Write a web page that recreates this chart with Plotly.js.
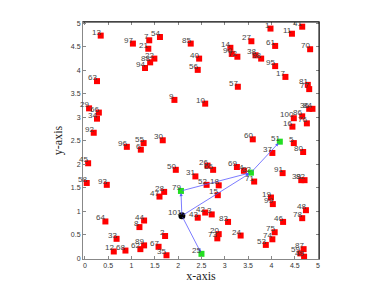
<!DOCTYPE html>
<html><head><meta charset="utf-8">
<script src="https://cdn.plot.ly/plotly-3.0.1.min.js"></script>
<style>html,body{margin:0;padding:0;background:#fff}#c{width:390px;height:293px}</style>
</head><body><div id="c"></div>
<script>
const redIds = [13,97,7,54,21,85,22,88,94,40,56,63,9,29,66,34,1,41,11,27,61,70,14,90,72,38,98,95,17,57,81,77,10,36,84,100,86,76,16,92,96,55,6,30,45,50,31,58,93,28,47,60,5,80,37,26,65,69,4,71,91,39,82,52,18,15,19,99,64,44,8,33,2,43,12,68,89,62,67,35,42,3,83,20,73,24,48,78,46,75,74,53,87,59,49];
const redX = [0.34,1.03,1.38,1.61,1.36,2.27,1.49,1.40,1.29,2.45,2.42,0.26,1.92,0.09,0.30,0.26,3.98,4.66,4.44,3.57,4.08,4.83,3.12,3.15,3.27,3.66,3.78,4.08,4.30,3.28,4.78,4.81,2.58,4.81,4.88,4.48,4.66,4.76,4.45,0.19,0.90,1.26,1.20,1.67,0.07,1.95,2.37,0.04,0.47,1.70,1.60,3.60,4.48,4.68,4.02,2.63,2.75,3.26,3.41,3.63,4.24,4.64,4.71,2.61,2.87,2.85,3.99,4.03,0.44,1.27,1.17,0.68,1.72,2.42,0.62,0.87,1.27,1.19,1.58,1.75,2.58,2.72,3.07,2.87,2.84,3.34,4.74,4.66,4.25,4.07,4.02,3.88,4.69,4.62,4.70];
const redY = [4.74,4.57,4.64,4.71,4.46,4.57,4.25,4.17,4.05,4.25,4.01,3.77,3.37,3.19,3.10,2.97,4.89,4.93,4.78,4.62,4.52,4.45,4.48,4.35,4.29,4.32,4.25,4.09,3.86,3.65,3.69,3.60,3.29,3.18,3.18,2.98,3.02,2.87,2.80,2.67,2.37,2.45,2.31,2.51,2.02,1.88,1.74,1.60,1.56,1.41,1.31,2.53,2.45,2.26,2.24,1.97,1.88,1.94,1.86,1.63,1.81,1.66,1.66,1.56,1.55,1.34,1.29,1.15,0.78,0.80,0.66,0.41,0.47,0.86,0.14,0.16,0.27,0.19,0.24,0.06,0.97,0.93,0.77,0.51,0.42,0.48,1.02,0.85,0.77,0.55,0.40,0.28,0.19,0.10,0.03];
const greenIds = [79,25,51,32];
const greenX = [2.06,2.50,4.18,3.56];
const greenY = [1.43,0.09,2.48,1.82];
const hubIds = [101];
const hubX = [2.08];
const hubY = [0.90];
const edgeFrom = [101,101,101,79,32];
const edgeTo = [79,25,32,32,51];
const xTicks = [0,0.5,1,1.5,2,2.5,3,3.5,4,4.5,5];
const yTicks = [0,0.5,1,1.5,2,2.5,3,3.5,4,4.5,5];

const pos = {};
greenIds.forEach((id,i)=>pos[id]=[greenX[i],greenY[i]]);
hubIds.forEach((id,i)=>pos[id]=[hubX[i],hubY[i]]);

const lblFont = {family:'Liberation Sans, Arial, sans-serif', size:8, color:'#444'};
const traces = [
  {type:'scatter', mode:'markers', x:redX, y:redY, marker:{symbol:'square', size:6, color:'#ff0000'}, hoverinfo:'none'},
  {type:'scatter', mode:'markers', x:greenX, y:greenY, marker:{symbol:'square', size:6, color:'#22dd22'}, hoverinfo:'none'},
  {type:'scatter', mode:'markers', x:hubX, y:hubY, marker:{symbol:'circle', size:7, color:'#000'}, hoverinfo:'none'}
];
const annotations = edgeFrom.map((f,i)=>{
  const a = pos[f], b = pos[edgeTo[i]];
  return {x:b[0], y:b[1], ax:a[0], ay:a[1], xref:'x', yref:'y', axref:'x', ayref:'y',
    showarrow:true, arrowhead:2, arrowsize:0.8, arrowwidth:0.8, arrowcolor:'#5a5aff', text:'', standoff:2};
});
function addLabels(ids, xs, ys){
  ids.forEach((id,i)=>annotations.push({x:xs[i], y:ys[i], xref:'x', yref:'y', text:String(id),
    showarrow:false, xanchor:'right', yanchor:'bottom', xshift:1, yshift:-2, borderpad:0, font:lblFont}));
}
addLabels(redIds, redX, redY);
addLabels(greenIds, greenX, greenY);
addLabels(hubIds, hubX, hubY);

const axisCommon = {showgrid:false, zeroline:false, showline:true, linecolor:'#888', linewidth:1,
  mirror:'ticks', ticks:'inside', ticklen:3, tickcolor:'#888',
  tickfont:{family:'Liberation Sans, Arial, sans-serif', size:7, color:'#333'}};
const layout = {
  width:390, height:293, margin:{l:83, r:71, t:22, b:34}, showlegend:false,
  paper_bgcolor:'#fff', plot_bgcolor:'#fff',
  xaxis:Object.assign({}, axisCommon, {range:[-0.04,5.02], tickvals:xTicks, ticktext:xTicks.map(String),
    title:{text:'x-axis', standoff:0, font:{family:'Liberation Serif, Times New Roman, serif', size:12, color:'#222'}}}),
  yaxis:Object.assign({}, axisCommon, {range:[-0.02,5.03], tickvals:yTicks, ticktext:yTicks.map(String),
    title:{text:'y-axis', standoff:5, font:{family:'Liberation Serif, Times New Roman, serif', size:12, color:'#222'}}}),
  annotations:annotations,
  shapes:[
    {type:'line', xref:'paper', yref:'paper', x0:0, x1:1, y0:1, y1:1, line:{color:'#000', width:1}},
    {type:'line', xref:'paper', yref:'paper', x0:1, x1:1, y0:0, y1:1, line:{color:'#000', width:1}}
  ]
};
Plotly.newPlot('c', traces, layout, {staticPlot:true, displayModeBar:false});
</script></body></html>
